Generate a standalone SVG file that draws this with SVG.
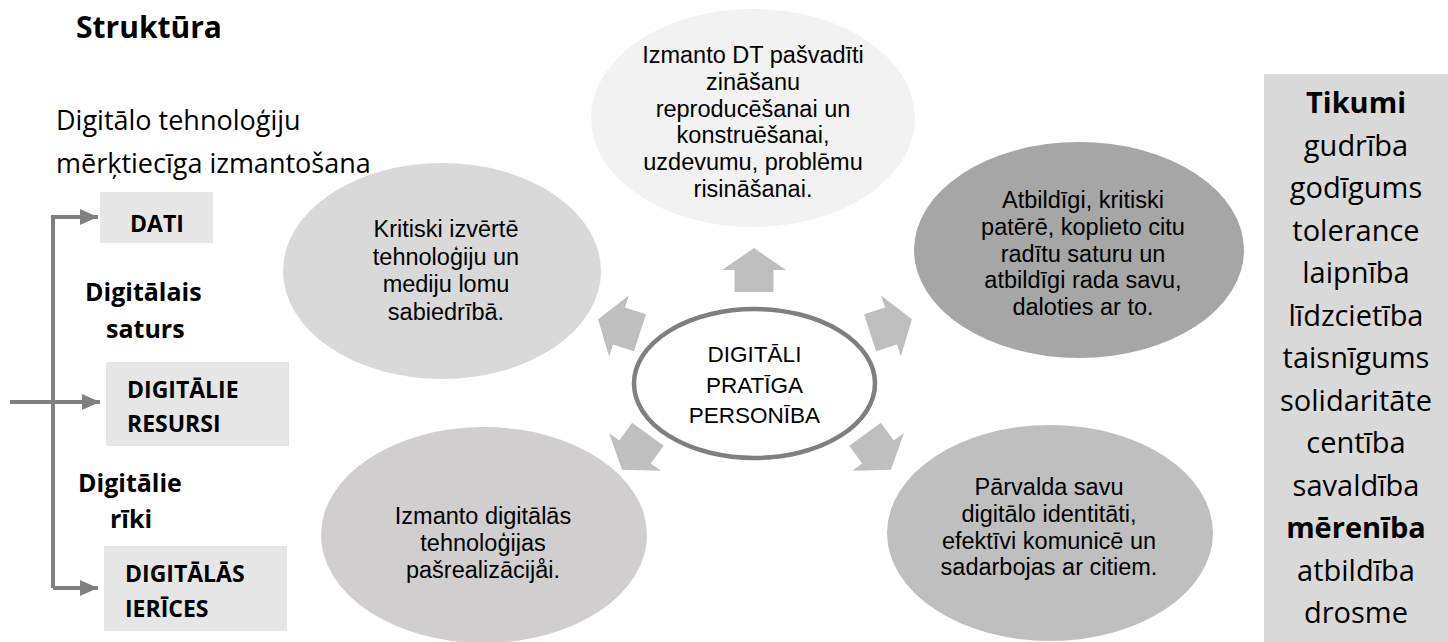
<svg xmlns="http://www.w3.org/2000/svg" width="1448" height="642" viewBox="0 0 1448 642">
<style>
text{font-family:"Open Sans","Noto Sans","Liberation Sans",sans-serif;fill:#000}
.b{font-weight:bold}
.lbl{font-size:25px;font-weight:bold}
.box{fill:#e7e6e6}
.bx{font-size:23px;font-weight:bold}
.el{font-family:"Liberation Sans",Arial,sans-serif;font-size:23.5px;text-anchor:middle}
.ct{font-family:"Liberation Sans",Arial,sans-serif;font-size:22.5px;text-anchor:middle}
.tk{font-size:29px;text-anchor:middle}
.conn{fill:none;stroke:#808080;stroke-width:4}
.blk{fill:#bfbfbf}
</style>
<defs>
<marker id="ah" markerUnits="userSpaceOnUse" markerWidth="18" markerHeight="16" refX="18" refY="8" orient="auto">
<path d="M0,0 L18,8 L0,16 Z" fill="#808080"/>
</marker>
<path id="barrow" d="M0,-22 L32,0 L19.5,0 L19.5,22 L-19.5,22 L-19.5,0 L-32,0 Z"/>
</defs>

<g id="title">
<text class="b" x="76" y="38" font-size="30">Struktūra</text>
</g>
<g id="heading">
<text x="56" y="130" font-size="27">Digitālo tehnoloģiju</text>
<text x="56" y="173" font-size="27">mērķtiecīga izmantošana</text>
</g>

<g id="connectors">
<path class="conn" d="M53,588 V217 H98" marker-end="url(#ah)"/>
<path class="conn" d="M53,588 H98" marker-end="url(#ah)"/>
<path class="conn" d="M10,402 H100" marker-end="url(#ah)"/>
<use href="#barrow" class="blk" transform="translate(754,270)"/>
<use href="#barrow" class="blk" transform="translate(891,326) rotate(72)"/>
<use href="#barrow" class="blk" transform="translate(619,326) rotate(-72)"/>
<use href="#barrow" class="blk" transform="translate(878,452) rotate(144)"/>
<use href="#barrow" class="blk" transform="translate(635,452) rotate(-144)"/>
</g>

<g id="dati">
<rect class="box" x="100" y="192" width="113" height="51"/>
<text class="bx" x="157" y="232" text-anchor="middle">DATI</text>
</g>
<g id="digitalais-saturs">
<text class="lbl" x="85" y="301">Digitālais</text>
<text class="lbl" x="106" y="338">saturs</text>
</g>
<g id="resursi">
<rect class="box" x="106" y="362" width="183" height="84"/>
<text class="bx" x="127" y="398">DIGITĀLIE</text>
<text class="bx" x="127" y="432">RESURSI</text>
</g>
<g id="digitalie-riki">
<text class="lbl" x="78" y="492">Digitālie</text>
<text class="lbl" x="110" y="528">rīki</text>
</g>
<g id="ierices">
<rect class="box" x="104" y="546" width="183" height="85"/>
<text class="bx" x="125" y="582">DIGITĀLĀS</text>
<text class="bx" x="125" y="617">IERĪCES</text>
</g>

<g id="e-top">
<ellipse cx="753" cy="118" rx="162" ry="109" fill="#f2f2f2"/>
<text class="el" x="753" y="63">Izmanto DT pašvadīti</text>
<text class="el" x="753" y="89.8">zināšanu</text>
<text class="el" x="753" y="116.6">reproducēšanai un</text>
<text class="el" x="753" y="143.4">konstruēšanai,</text>
<text class="el" x="753" y="170.2">uzdevumu, problēmu</text>
<text class="el" x="753" y="197">risināšanai.</text>
</g>
<g id="e-upper-left">
<ellipse cx="442" cy="271" rx="159" ry="108" fill="#d9d9d9"/>
<text class="el" x="446" y="237">Kritiski izvērtē</text>
<text class="el" x="446" y="264.6">tehnoloģiju un</text>
<text class="el" x="446" y="292.2">mediju lomu</text>
<text class="el" x="446" y="319.8">sabiedrībā.</text>
</g>
<g id="e-upper-right">
<ellipse cx="1079" cy="250" rx="165" ry="108" fill="#a6a6a6"/>
<text class="el" x="1083" y="208">Atbildīgi, kritiski</text>
<text class="el" x="1083" y="234.8">patērē, koplieto citu</text>
<text class="el" x="1083" y="261.6">radītu saturu un</text>
<text class="el" x="1083" y="288.4">atbildīgi rada savu,</text>
<text class="el" x="1083" y="315.2">daloties ar to.</text>
</g>
<g id="e-lower-left">
<ellipse cx="484" cy="535" rx="163" ry="108" fill="#d0cece"/>
<text class="el" x="483" y="524">Izmanto digitālās</text>
<text class="el" x="483" y="550.8">tehnoloģijas</text>
<text class="el" x="483" y="577.6">pašrealizācijåi.</text>
</g>
<g id="e-lower-right">
<ellipse cx="1050" cy="533" rx="163" ry="108" fill="#bfbfbf"/>
<text class="el" x="1049" y="495">Pārvalda savu</text>
<text class="el" x="1049" y="521.8">digitālo identitāti,</text>
<text class="el" x="1049" y="548.6">efektīvi komunicē un</text>
<text class="el" x="1049" y="575.4">sadarbojas ar citiem.</text>
</g>
<g id="e-center">
<ellipse cx="754.5" cy="383.5" rx="120.5" ry="74.5" fill="#ffffff" stroke="#7f7f7f" stroke-width="4.5"/>
<text class="ct" x="754.5" y="362">DIGITĀLI</text>
<text class="ct" x="754.5" y="392.5">PRATĪGA</text>
<text class="ct" x="754.5" y="423">PERSONĪBA</text>
</g>

<g id="tikumi">
<rect x="1264" y="74" width="184" height="568" fill="#d9d9d9"/>
<text class="tk b" x="1356" y="113">Tikumi</text>
<text class="tk" x="1356" y="155.5">gudrība</text>
<text class="tk" x="1356" y="198">godīgums</text>
<text class="tk" x="1356" y="240.5">tolerance</text>
<text class="tk" x="1356" y="283">laipnība</text>
<text class="tk" x="1356" y="325.5">līdzcietība</text>
<text class="tk" x="1356" y="368">taisnīgums</text>
<text class="tk" x="1356" y="410.5">solidaritāte</text>
<text class="tk" x="1356" y="453">centība</text>
<text class="tk" x="1356" y="495.5">savaldība</text>
<text class="tk b" x="1356" y="538">mērenība</text>
<text class="tk" x="1356" y="580.5">atbildība</text>
<text class="tk" x="1356" y="623">drosme</text>
</g>
</svg>
